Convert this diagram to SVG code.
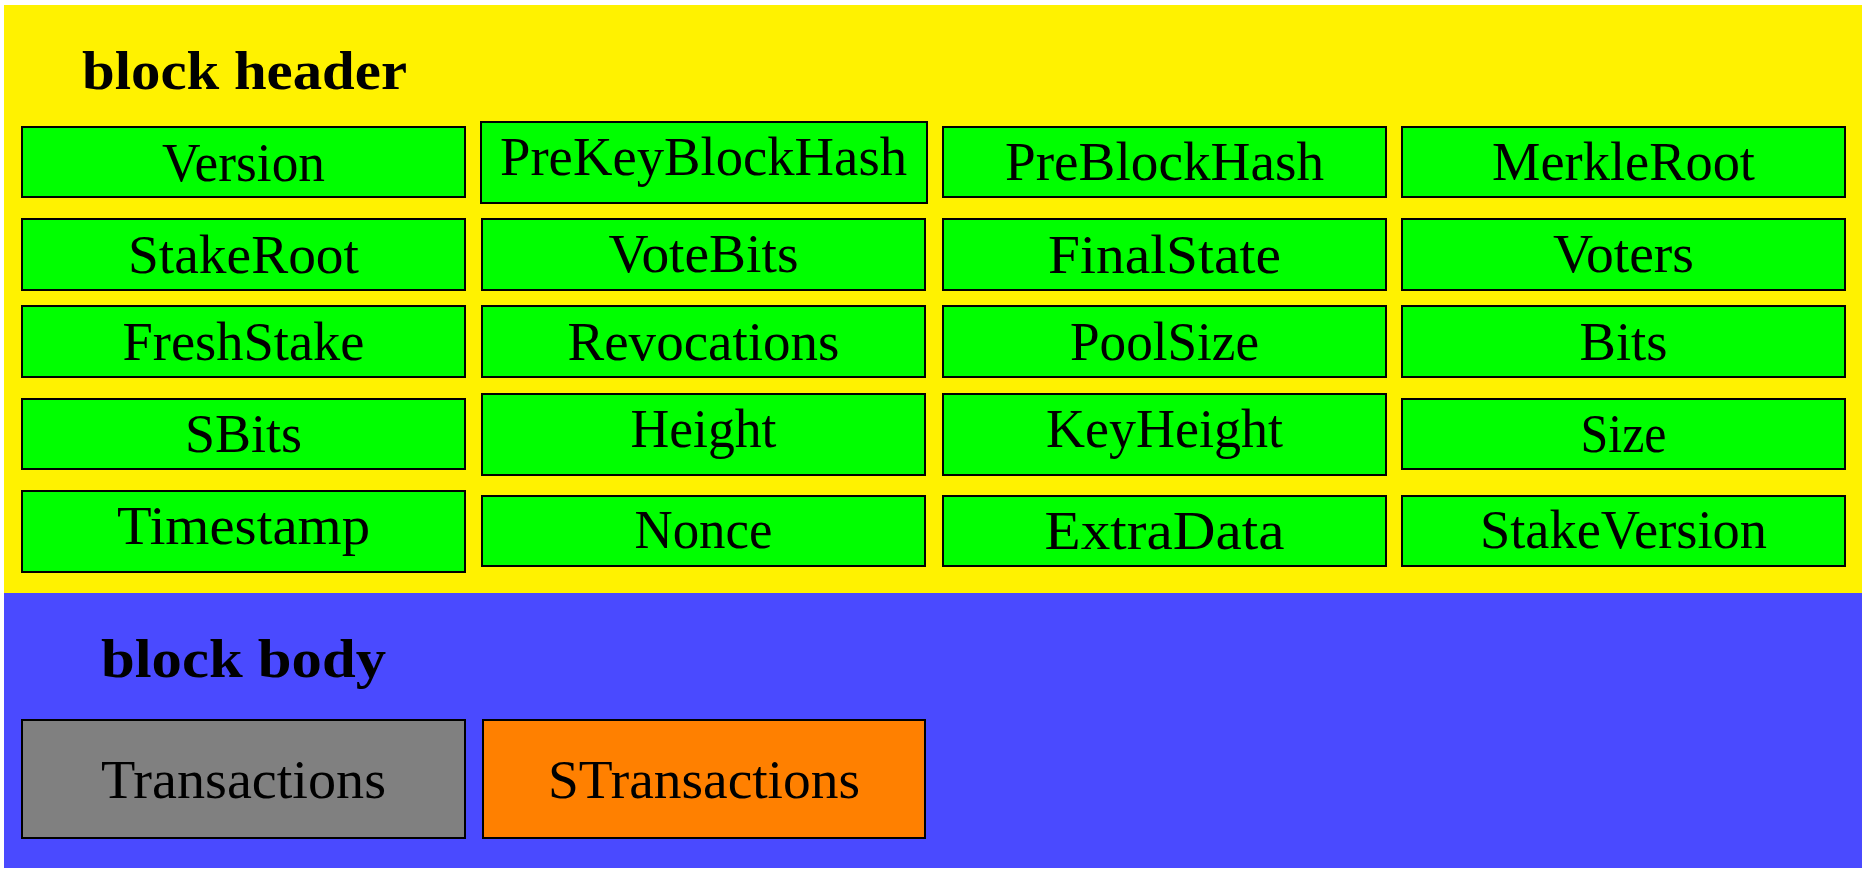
<svg xmlns="http://www.w3.org/2000/svg" width="1868" height="876" viewBox="0 0 1868 876">
  <style>
    .field { fill: #00FF00; stroke: #000000; stroke-width: 2; }
    .label { font-family: "Liberation Serif", "DejaVu Serif", serif; font-size: 55px; fill: #000000; text-anchor: middle; }
    .title { font-family: "Liberation Serif", "DejaVu Serif", serif; font-size: 54px; font-weight: bold; fill: #000000; }
  </style>

  <!-- Header section -->
  <g id="block-header">
    <rect x="4" y="5" width="1858" height="588" fill="#FFF200"/>
    <text class="title" x="82" y="89" textLength="325" lengthAdjust="spacingAndGlyphs">block header</text>
  </g>

  <!-- Body section -->
  <g id="block-body">
    <rect x="4" y="593" width="1858" height="275" fill="#4A4AFF"/>
    <text class="title" x="101" y="677" textLength="285" lengthAdjust="spacingAndGlyphs">block body</text>
  </g>

  <!-- Row 1 -->
  <g id="version">
    <rect class="field" x="22" y="127" width="443" height="70"/>
    <text class="label" x="243.5" y="181" textLength="163" lengthAdjust="spacingAndGlyphs">Version</text>
  </g>
  <g id="prekeyblockhash">
    <rect class="field" x="481" y="122" width="446" height="81"/>
    <text class="label" x="703.5" y="175" textLength="407" lengthAdjust="spacingAndGlyphs">PreKeyBlockHash</text>
  </g>
  <g id="preblockhash">
    <rect class="field" x="943" y="127" width="443" height="70"/>
    <text class="label" x="1164.5" y="180" textLength="319" lengthAdjust="spacingAndGlyphs">PreBlockHash</text>
  </g>
  <g id="merkleroot">
    <rect class="field" x="1402" y="127" width="443" height="70"/>
    <text class="label" x="1623.5" y="180" textLength="263" lengthAdjust="spacingAndGlyphs">MerkleRoot</text>
  </g>

  <!-- Row 2 -->
  <g id="stakeroot">
    <rect class="field" x="22" y="219" width="443" height="71"/>
    <text class="label" x="243.5" y="273" textLength="231" lengthAdjust="spacingAndGlyphs">StakeRoot</text>
  </g>
  <g id="votebits">
    <rect class="field" x="482" y="219" width="443" height="71"/>
    <text class="label" x="703.5" y="272" textLength="190" lengthAdjust="spacingAndGlyphs">VoteBits</text>
  </g>
  <g id="finalstate">
    <rect class="field" x="943" y="219" width="443" height="71"/>
    <text class="label" x="1164.5" y="272.5" textLength="233" lengthAdjust="spacingAndGlyphs">FinalState</text>
  </g>
  <g id="voters">
    <rect class="field" x="1402" y="219" width="443" height="71"/>
    <text class="label" x="1623.5" y="272" textLength="141" lengthAdjust="spacingAndGlyphs">Voters</text>
  </g>

  <!-- Row 3 -->
  <g id="freshstake">
    <rect class="field" x="22" y="306" width="443" height="71"/>
    <text class="label" x="243.5" y="360" textLength="242" lengthAdjust="spacingAndGlyphs">FreshStake</text>
  </g>
  <g id="revocations">
    <rect class="field" x="482" y="306" width="443" height="71"/>
    <text class="label" x="703.5" y="360" textLength="272" lengthAdjust="spacingAndGlyphs">Revocations</text>
  </g>
  <g id="poolsize">
    <rect class="field" x="943" y="306" width="443" height="71"/>
    <text class="label" x="1164.5" y="359.5" textLength="189" lengthAdjust="spacingAndGlyphs">PoolSize</text>
  </g>
  <g id="bits">
    <rect class="field" x="1402" y="306" width="443" height="71"/>
    <text class="label" x="1623.5" y="360" textLength="88" lengthAdjust="spacingAndGlyphs">Bits</text>
  </g>

  <!-- Row 4 -->
  <g id="sbits">
    <rect class="field" x="22" y="399" width="443" height="70"/>
    <text class="label" x="243.5" y="452" textLength="117" lengthAdjust="spacingAndGlyphs">SBits</text>
  </g>
  <g id="height">
    <rect class="field" x="482" y="394" width="443" height="81"/>
    <text class="label" x="703.5" y="447" textLength="146" lengthAdjust="spacingAndGlyphs">Height</text>
  </g>
  <g id="keyheight">
    <rect class="field" x="943" y="394" width="443" height="81"/>
    <text class="label" x="1164.5" y="447" textLength="237" lengthAdjust="spacingAndGlyphs">KeyHeight</text>
  </g>
  <g id="size">
    <rect class="field" x="1402" y="399" width="443" height="70"/>
    <text class="label" x="1623.5" y="452" textLength="86" lengthAdjust="spacingAndGlyphs">Size</text>
  </g>

  <!-- Row 5 -->
  <g id="timestamp">
    <rect class="field" x="22" y="491" width="443" height="81"/>
    <text class="label" x="243.5" y="544" textLength="253" lengthAdjust="spacingAndGlyphs">Timestamp</text>
  </g>
  <g id="nonce">
    <rect class="field" x="482" y="496" width="443" height="70"/>
    <text class="label" x="703.5" y="548" textLength="138" lengthAdjust="spacingAndGlyphs">Nonce</text>
  </g>
  <g id="extradata">
    <rect class="field" x="943" y="496" width="443" height="70"/>
    <text class="label" x="1164.5" y="549" textLength="240" lengthAdjust="spacingAndGlyphs">ExtraData</text>
  </g>
  <g id="stakeversion">
    <rect class="field" x="1402" y="496" width="443" height="70"/>
    <text class="label" x="1623.5" y="548" textLength="287" lengthAdjust="spacingAndGlyphs">StakeVersion</text>
  </g>

  <!-- Body contents -->
  <g id="transactions">
    <rect x="22" y="720" width="443" height="118" fill="#808080" stroke="#000000" stroke-width="2"/>
    <text class="label" x="243.5" y="798" textLength="285" lengthAdjust="spacingAndGlyphs">Transactions</text>
  </g>
  <g id="stransactions">
    <rect x="483" y="720" width="442" height="118" fill="#FF8000" stroke="#000000" stroke-width="2"/>
    <text class="label" x="704" y="798" textLength="312" lengthAdjust="spacingAndGlyphs">STransactions</text>
  </g>
</svg>
